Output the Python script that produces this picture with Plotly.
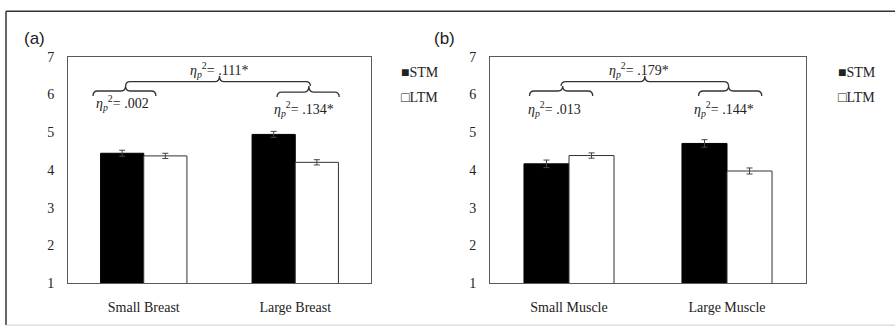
import plotly.graph_objects as go

# ---------------- data ----------------
cats_a = ["Small Breast", "Large Breast"]
stm_a = [4.44, 4.94]
ltm_a = [4.37, 4.20]
stm_a_err = [0.08, 0.08]
ltm_a_err = [0.07, 0.07]

cats_b = ["Small Muscle", "Large Muscle"]
stm_b = [4.16, 4.70]
ltm_b = [4.38, 3.97]
stm_b_err = [0.10, 0.10]
ltm_b_err = [0.07, 0.08]

eta_a = [".002", ".111*", ".134*"]   # small pair, overall, large pair
eta_b = [".013", ".179*", ".144*"]

y_ticks = [1, 2, 3, 4, 5, 6, 7]
series_names = ["STM", "LTM"]

W, H = 895, 335
SERIF = "Liberation Serif, Times New Roman, serif"
SANS = "Liberation Sans, Arial, sans-serif"
AXC = "#5a5a5a"

fig = go.Figure()

def add_panel(cats, stm, ltm, stm_e, ltm_e, xa, ya):
    xs = list(range(len(cats)))
    fig.add_trace(go.Bar(x=xs, y=stm, name=series_names[0], xaxis=xa, yaxis=ya,
                         marker=dict(color="black", line=dict(color="black", width=1)),
                         error_y=dict(type="data", array=stm_e, color="#444", thickness=1, width=3),
                         showlegend=False, offsetgroup="s"))
    fig.add_trace(go.Bar(x=xs, y=ltm, name=series_names[1], xaxis=xa, yaxis=ya,
                         marker=dict(color="white", line=dict(color="#333", width=1)),
                         error_y=dict(type="data", array=ltm_e, color="#444", thickness=1, width=3),
                         showlegend=False, offsetgroup="l"))

add_panel(cats_a, stm_a, ltm_a, stm_a_err, ltm_a_err, "x", "y")
add_panel(cats_b, stm_b, ltm_b, stm_b_err, ltm_b_err, "x2", "y2")

ydom = [1 - 289 / H, 1 - 52 / H]
xdom_a = [68 / W, 371 / W]
xdom_b = [490 / W, 806 / W]

def xaxis(dom, cats):
    return dict(domain=dom, range=[-0.5, len(cats) - 0.5], tickvals=list(range(len(cats))),
                ticktext=cats, showline=True, linecolor=AXC, linewidth=1, mirror=True,
                showgrid=False, zeroline=False, ticks="", ticklabelstandoff=11,
                tickfont=dict(family=SERIF, size=14, color="#222"), fixedrange=True)

def yaxis(anchor):
    return dict(domain=ydom, range=[1, 7], tickvals=y_ticks, showline=True, linecolor=AXC,
                linewidth=1, mirror=True, showgrid=False, zeroline=False, ticks="",
                ticklabelstandoff=10, anchor=anchor,
                tickfont=dict(family=SERIF, size=14, color="#222"), fixedrange=True)

fig.update_layout(
    width=W, height=H, margin=dict(l=0, r=0, t=0, b=0),
    paper_bgcolor="white", plot_bgcolor="white",
    barmode="group", bargap=0.43, bargroupgap=0,
    xaxis=xaxis(xdom_a, cats_a), yaxis=yaxis("x"),
    xaxis2=dict(xaxis(xdom_b, cats_b), anchor="y2"), yaxis2=yaxis("x2"),
    showlegend=False,
)
fig.layout.xaxis.anchor = "y"

# ---------------- braces ----------------
def brace(xa, xb, xm, yf, ye, yt, r):
    return (f"M {xa},{ye} Q {xa},{yf} {xa + r},{yf} L {xm - r},{yf} "
            f"Q {xm},{yf} {xm},{yt} Q {xm},{yf} {xm + r},{yf} "
            f"L {xb - r},{yf} Q {xb},{yf} {xb},{ye}")

braces_a = [(-0.335, 0.08, -0.12, 6.09, 5.96, 6.22),
            (-0.12, 1.10, 0.50, 6.34, 6.22, 6.49),
            (0.88, 1.29, 1.09, 6.06, 5.93, 6.22)]
braces_b = [(-0.25, 0.15, -0.04, 6.09, 5.96, 6.22),
            (-0.05, 1.01, 0.48, 6.34, 6.22, 6.49),
            (0.82, 1.22, 1.01, 6.09, 5.96, 6.22)]

for (xr, yr, bl) in [("x", "y", braces_a), ("x2", "y2", braces_b)]:
    for b in bl:
        fig.add_shape(type="path", path=brace(*b, r=0.03), xref=xr, yref=yr,
                      line=dict(color="#333", width=1.3))

def eta(v):
    return f"<i>η<sub>p</sub></i><sup>2</sup>= {v}"

lab_pos_a = [(-0.14, 5.76), (0.50, 6.66), (1.06, 5.60)]
lab_pos_b = [(-0.09, 5.60), (0.44, 6.66), (0.98, 5.62)]
for (xr, yr, vals, pos) in [("x", "y", eta_a, lab_pos_a), ("x2", "y2", eta_b, lab_pos_b)]:
    for v, (px, py) in zip(vals, pos):
        fig.add_annotation(x=px, y=py, xref=xr, yref=yr, text=eta(v), showarrow=False,
                           font=dict(family=SERIF, size=14, color="#222"))

# ---------------- legends (per panel) ----------------
for lx in [399 / W, 836 / W]:
    for i, (sym, nm) in enumerate(zip(["■", "□"], series_names)):
        fig.add_annotation(x=lx, y=1 - (69 + 26 * i) / H, xref="paper", yref="paper",
                           xanchor="left", yanchor="middle", showarrow=False,
                           text=f"<span style='font-size:14px'>{sym}</span>{nm}",
                           font=dict(family=SERIF, size=14, color="#222"))

# ---------------- panel labels ----------------
for lx, t in [(22 / W, "(a)"), (432 / W, "(b)")]:
    fig.add_annotation(x=lx, y=1 - 33 / H, xref="paper", yref="paper", xanchor="left",
                       yanchor="middle", showarrow=False, text=t,
                       font=dict(family=SANS, size=17, color="#222"))

# ---------------- outer frame ----------------
fig.add_shape(type="line", xref="paper", yref="paper", x0=6 / W, x1=1, y0=1 - 4.5 / H, y1=1 - 4.5 / H,
              line=dict(color="#333", width=1.5))
fig.add_shape(type="line", xref="paper", yref="paper", x0=6 / W, x1=6 / W, y0=1 - 4.5 / H, y1=1 - 333 / H,
              line=dict(color="#333", width=1.5))
fig.add_shape(type="line", xref="paper", yref="paper", x0=6 / W, x1=1, y0=1 - 333 / H, y1=1 - 333 / H,
              line=dict(color="#ccc", width=1))

fig.write_html("out.html", config={"displayModeBar": False},
               post_script="document.body.style.margin='0';document.body.style.overflow='hidden';")
